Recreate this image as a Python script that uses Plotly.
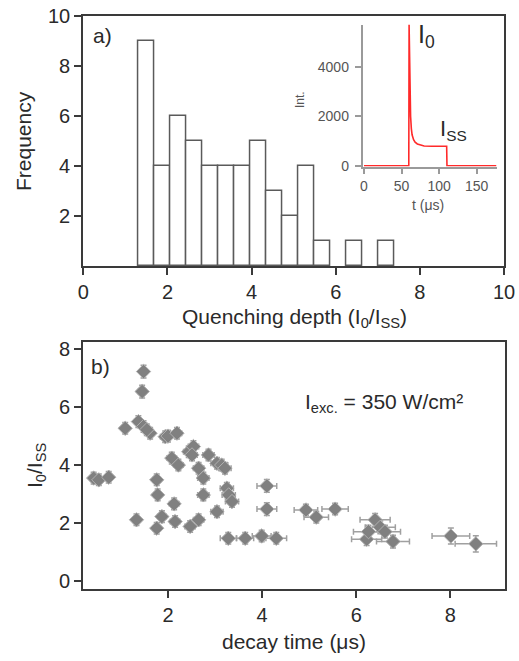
import plotly.graph_objects as go

W, H = 519, 661
FONT = "Liberation Sans, Arial, sans-serif"
TXT = "#2a2a2a"

# ---------- panel a: histogram ----------
bin_left = [1.31, 1.69, 2.07, 2.45, 2.83, 3.21, 3.59, 3.97, 4.35, 4.73, 5.11, 5.49, 6.25, 7.01]
bin_count = [9, 4, 6, 5, 4, 4, 4, 5, 3, 2, 4, 1, 1, 1]
bin_width = 0.38

# ---------- inset: transient ----------
t_us = [0, 59.6, 60, 60.5, 61, 61.5, 62, 63, 64, 66, 68, 71, 75, 80, 90, 100, 110, 110.4, 176]
intensity = [0, 0, 5700, 4700, 3500, 2600, 2000, 1500, 1250, 1050, 950, 880, 830, 800, 790, 790, 790, 0, 0]

# ---------- panel b: scatter ----------
decay = [1.48, 1.45, 1.37, 1.48, 1.62, 1.55, 1.09, 1.94, 2.00, 2.19, 2.08, 2.22, 2.44, 2.54, 2.51,
         2.86, 2.65, 2.75, 3.04, 3.14, 3.21, 3.25, 3.29, 3.36, 3.04, 2.75, 1.76, 1.78, 2.13, 1.87,
         1.76, 2.15, 1.33, 2.47, 2.65, 0.42, 0.53, 0.74, 3.28, 3.64, 3.99, 4.30, 4.10, 4.10, 4.93,
         5.15, 5.55, 6.40, 6.51, 6.61, 6.22, 6.78, 6.26, 8.01, 8.54]
ratio = [7.23, 6.54, 5.50, 5.33, 5.10, 5.22, 5.27, 4.98, 5.00, 5.10, 4.24, 4.00, 4.46, 4.64, 4.35,
         4.35, 3.89, 3.55, 4.06, 4.00, 3.89, 3.20, 2.97, 2.74, 2.39, 2.97, 3.49, 2.97, 2.66, 2.22,
         1.82, 2.05, 2.11, 1.88, 2.11, 3.55, 3.49, 3.58, 1.47, 1.47, 1.55, 1.47, 3.28, 2.48, 2.45,
         2.20, 2.48, 2.11, 1.85, 1.70, 1.44, 1.36, 1.70, 1.55, 1.28]
decay_err = [0.08, 0.08, 0.08, 0.08, 0.08, 0.08, 0.07, 0.10, 0.10, 0.10, 0.10, 0.10, 0.11, 0.11, 0.11,
             0.12, 0.11, 0.12, 0.13, 0.13, 0.13, 0.14, 0.14, 0.14, 0.13, 0.12, 0.08, 0.08, 0.10, 0.09,
             0.08, 0.10, 0.07, 0.11, 0.11, 0.05, 0.05, 0.05, 0.17, 0.18, 0.20, 0.22, 0.21, 0.21, 0.25,
             0.26, 0.28, 0.32, 0.32, 0.33, 0.32, 0.35, 0.32, 0.40, 0.44]
ratio_err = [0.22, 0.22, 0.20, 0.20, 0.20, 0.20, 0.20, 0.20, 0.20, 0.20, 0.20, 0.20, 0.20, 0.20, 0.20,
             0.20, 0.20, 0.20, 0.20, 0.20, 0.20, 0.20, 0.20, 0.20, 0.20, 0.20, 0.20, 0.20, 0.20, 0.20,
             0.20, 0.20, 0.20, 0.20, 0.20, 0.20, 0.20, 0.20, 0.20, 0.20, 0.20, 0.20, 0.22, 0.22, 0.20,
             0.20, 0.20, 0.22, 0.22, 0.22, 0.22, 0.22, 0.22, 0.28, 0.28]


def px(x):
    return x / W


def py(y):
    return 1 - y / H


fig = go.Figure()

fig.add_trace(go.Bar(
    x=[b + bin_width / 2 for b in bin_left], y=bin_count, width=bin_width,
    marker=dict(color="white", line=dict(color="#5a5a5a", width=1.5)),
    xaxis="x", yaxis="y", showlegend=False))

fig.add_trace(go.Scatter(
    x=t_us, y=intensity, mode="lines", line=dict(color="#ff2a2a", width=1.6),
    xaxis="x3", yaxis="y3", showlegend=False))

fig.add_trace(go.Scatter(
    x=decay, y=ratio, mode="markers",
    marker=dict(symbol="diamond", size=11, color="#808080", line=dict(color="#b0b0b0", width=1)),
    error_x=dict(type="data", array=decay_err, color="#a0a0a0", thickness=1.5, width=3),
    error_y=dict(type="data", array=ratio_err, color="#a0a0a0", thickness=1.5, width=3),
    xaxis="x2", yaxis="y2", showlegend=False))

main_ax = dict(showline=True, linecolor="#3a3a3a", linewidth=2.2, mirror=True,
               ticks="outside", ticklen=7, tickwidth=2, tickcolor="#3a3a3a",
               showgrid=False, zeroline=False, automargin=False,
               tickfont=dict(family=FONT, size=20, color=TXT))
inset_ax = dict(showline=True, linecolor="#9a9a9a", linewidth=1.5, mirror=False,
                ticks="outside", ticklen=6, tickwidth=1.5, tickcolor="#9a9a9a",
                showgrid=False, zeroline=False, automargin=False,
                tickfont=dict(family=FONT, size=14, color="#555555"))

fig.update_layout(
    template="none",
    width=W, height=H, margin=dict(l=0, r=0, t=0, b=0, pad=0, autoexpand=False),
    paper_bgcolor="white", plot_bgcolor="rgba(0,0,0,0)",
    bargap=0, showlegend=False,
    xaxis=dict(main_ax, domain=[px(83.3), px(504)], range=[0, 10],
               tickvals=[0, 2, 4, 6, 8, 10], anchor="y"),
    yaxis=dict(main_ax, domain=[py(266), py(16)], range=[0, 10],
               tickvals=[2, 4, 6, 8, 10], anchor="x"),
    xaxis2=dict(main_ax, domain=[px(83.3), px(505)], range=[0.2, 9.16],
                tickvals=[2, 4, 6, 8], anchor="y2"),
    yaxis2=dict(main_ax, domain=[py(589), py(341.7)], range=[-0.28, 8.26],
                tickvals=[0, 2, 4, 6, 8], anchor="x2"),
    xaxis3=dict(inset_ax, domain=[px(362.5), px(497)], range=[-2, 177],
                tickvals=[0, 50, 100, 150], anchor="y3"),
    yaxis3=dict(inset_ax, domain=[py(166.5), py(24.6)], range=[-30, 5700],
                tickvals=[0, 2000, 4000], anchor="x3", ticklabelstandoff=3),
)

ann = [
    dict(x=px(102), y=py(36), text="a)", size=21),
    dict(x=px(100), y=py(366), text="b)", size=21),
    dict(x=px(24), y=py(141), text="Frequency", size=21, angle=-90),
    dict(x=px(294), y=py(318), text="Quenching depth (I<sub>0</sub>/I<sub>SS</sub>)", size=21),
    dict(x=px(36), y=py(465), text="I<sub>0</sub>/I<sub>SS</sub>", size=21, angle=-90),
    dict(x=px(294), y=py(641), text="decay time (μs)", size=21),
    dict(x=px(384), y=py(403), text="I<sub>exc.</sub> = 350 W/cm²", size=21),
    dict(x=px(426), y=py(36), text="I<sub>0</sub>", size=25),
    dict(x=px(453), y=py(130), text="I<sub>SS</sub>", size=22),
    dict(x=px(300), y=py(100), text="Int.", size=12, angle=-90, color="#555555"),
    dict(x=px(428), y=py(205), text="t (μs)", size=14, color="#555555"),
]
fig.update_layout(annotations=[
    dict(x=a["x"], y=a["y"], xref="paper", yref="paper", text=a["text"], showarrow=False,
         xanchor="center", yanchor="middle", textangle=a.get("angle", 0),
         font=dict(family=FONT, size=a["size"], color=a.get("color", TXT)))
    for a in ann])

fig.write_html("out.html")
